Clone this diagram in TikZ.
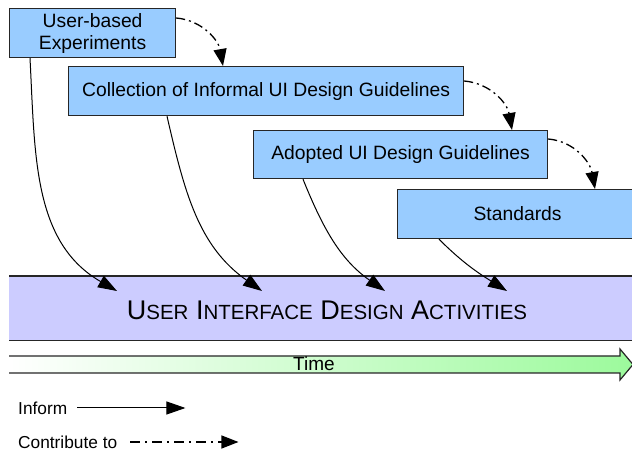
\documentclass[tikz,border=0pt]{standalone}
\usepackage{fontspec}
\setmainfont{Liberation Sans}
\usetikzlibrary{arrows.meta, positioning}

\definecolor{boxblue}{HTML}{99CCFF}
\definecolor{bandlilac}{HTML}{CCCCFF}
\definecolor{timegreen}{HTML}{9CFA9C}

\newcommand{\fakecaps}[2]{#1{\fontsize{20.5}{24}\selectfont #2}}

\begin{document}
\begin{tikzpicture}[x=1pt, y=1pt,
	stage/.style={draw=black!85, line width=1.2pt, fill=boxblue, minimum height=49pt, inner sep=0pt, align=center, anchor=north west, font=\fontsize{19.3}{22}\selectfont},
	inform/.style={line width=1pt, -{Triangle[length=19pt,width=13pt]}},
	contrib/.style={line width=1.3pt, dash pattern=on 9pt off 4pt on 2pt off 4pt, -{Triangle[length=17pt,width=13pt]}},
	legend/.style={anchor=west, inner sep=0pt, font=\fontsize{17.3}{20}\selectfont}]
		\clip (0,0) rectangle (632,455);
		% stages
		\node[stage, minimum width=166pt] (exp) at (9,447) {User-based\\Experiments};
		\node[stage, minimum width=395pt] (coll) at (68,389) {Collection of Informal UI Design Guidelines};
		\node[stage, minimum width=294pt, minimum height=48pt] (adop) at (253,325) {Adopted UI Design Guidelines};
		\node[stage, minimum width=240pt] (std) at (397,266) {Standards};
		% activities band
		\node[fill=bandlilac, minimum width=631pt, minimum height=64pt, anchor=north west, inner sep=0pt] (uida) at (9,179) {};
		\draw[line width=1.3pt, black!85] (uida.north west) -- (uida.north east) (uida.south west) -- (uida.south east);
		\node[font=\fontsize{27}{30}\selectfont] (uidatext) at (327,145) {\fakecaps{U}{SER} \fakecaps{I}{NTERFACE} \fakecaps{D}{ESIGN} \fakecaps{A}{CTIVITIES}};
		% time arrow
		\shade[left color=white, right color=timegreen] (9,99) -- (620,99) -- (620,106) -- (633,90.5) -- (620,75) -- (620,82) -- (9,82) -- cycle;
		\draw[line width=1.2pt, black!85] (9,99) -- (620,99) -- (620,106) -- (633,90.5) -- (620,75) -- (620,82) -- (9,82);
		\node[font=\fontsize{19}{22}\selectfont] (time) at (314,91) {Time};
		% inform
		\foreach \n/\x in {1/117, 2/262, 3/385, 4/507}
			\coordinate (hit\n) at (\x,164);
		\draw[inform] (30,0 |- exp.south) to[out=-87, in=150] (hit1);
		\draw[inform] (167,0 |- coll.south) to[out=-77, in=145] (hit2);
		\draw[inform] (303,0 |- adop.south) to[out=-68, in=145] (hit3);
		\draw[inform] (439,0 |- std.south) to[out=-45, in=148] (hit4);
		% contribute to
		\draw[contrib] (exp.east |- 0,437) to[out=-5, in=100] (223,0 |- coll.north);
		\draw[contrib] (coll.east |- 0,374) to[out=-5, in=100] (512,0 |- adop.north);
		\draw[contrib] (adop.east |- 0,316) to[out=-5, in=100] (595,0 |- std.north);
		% legend
		\node[legend] (inf) at (18,47) {Inform};
		\coordinate[right=10pt of inf] (infstart);
		\coordinate[right=118pt of inf] (infend);
		\draw[inform] (infstart) -- (infend);
		\node[legend] (con) at (18,13) {Contribute to};
		\coordinate[right=13pt of con] (constart);
		\coordinate[right=121pt of con] (conend);
		\draw[contrib, dash pattern=on 10pt off 5pt on 2pt off 5pt] (constart) -- (conend);
	\end{tikzpicture}
\end{document}
